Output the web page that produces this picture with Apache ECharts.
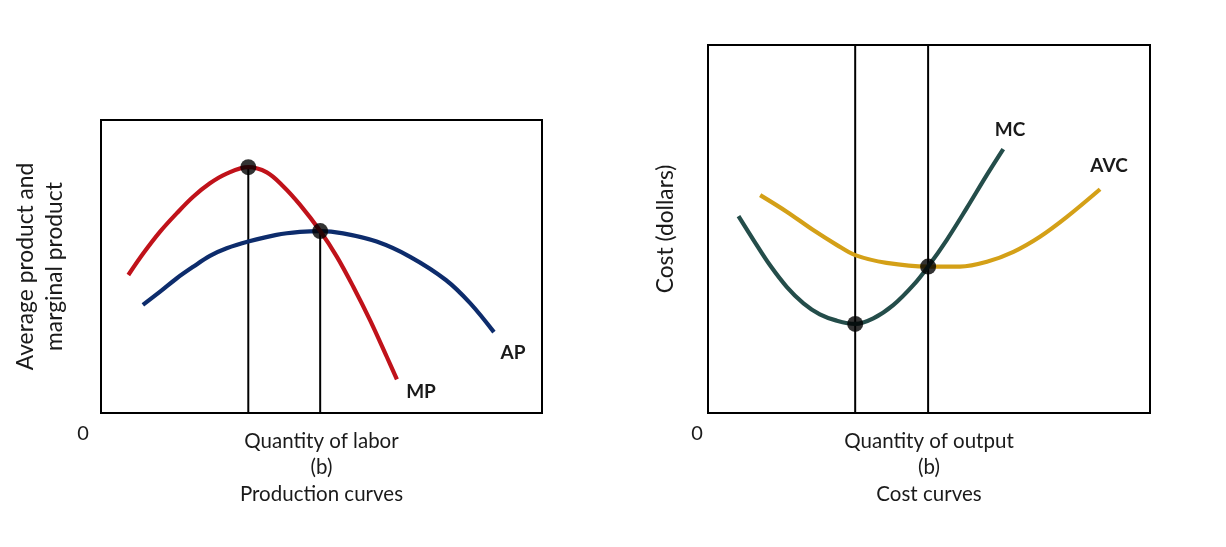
<!DOCTYPE html>
<html>
<head>
<meta charset="utf-8">
<script src="https://cdn.jsdelivr.net/npm/echarts@6/dist/echarts.min.js"></script>
<style>
  html, body { margin: 0; padding: 0; background: #fff; }
  #chart { width: 1226px; height: 547px; }
</style>
</head>
<body>
<div id="chart"></div>
<script>
// production curves (left panel)
const mpX = [6.2, 9.6, 13.4, 17.2, 20.9, 24.7, 28.5, 33.4, 37.6, 41.3, 45.1, 49.7, 53.5, 57.2, 61.0, 64.8, 67.1];
const mpY = [47.1, 54.5, 61.9, 68.2, 73.8, 78.4, 81.7, 83.9, 82.1, 77.4, 71.1, 62.1, 53.3, 43.1, 31.7, 19.2, 11.5];
const apX = [9.5, 13.4, 17.2, 20.9, 24.7, 28.5, 33.4, 39.8, 45.1, 49.7, 54.9, 62.5, 70.1, 78.2, 83.7, 89.1];
const apY = [36.9, 41.4, 46.0, 49.9, 53.6, 56.2, 58.5, 60.8, 61.8, 62.1, 61.3, 58.5, 53.3, 45.4, 37.5, 27.6];
const prodDotX = [33.4, 49.7];
const prodDotY = [83.9, 62.1];

// cost curves (right panel)
const mcX = [6.9, 10.3, 14.0, 17.8, 21.6, 25.3, 29.1, 33.3, 37.4, 41.9, 46.5, 49.8, 54.0, 58.5, 63.1, 66.8];
const mcY = [53.5, 47.0, 40.2, 34.3, 29.8, 26.8, 25.1, 24.2, 25.7, 29.3, 34.8, 39.8, 47.0, 55.6, 64.7, 71.7];
const avcX = [11.8, 17.8, 23.8, 29.1, 33.3, 40.4, 49.8, 57.0, 63.1, 69.1, 75.1, 81.2, 88.7];
const avcY = [59.2, 54.7, 49.7, 45.7, 42.9, 40.8, 39.8, 39.8, 41.1, 43.8, 47.9, 53.3, 60.8];
const costDotX = [33.3, 49.8];
const costDotY = [24.2, 39.8];

const zip = (xs, ys) => xs.map((x, i) => [x, ys[i]]);
const font = 'Lato, "Open Sans", sans-serif';

function curve(name, xs, ys, color, idx) {
    return {
        name: name, type: 'line', smooth: 0.35, symbol: 'none',
        xAxisIndex: idx, yAxisIndex: idx,
        lineStyle: { color: color, width: 4.2 },
        data: zip(xs, ys), z: 3
    };
}
function vline(x, top, idx) {
    return {
        type: 'line', symbol: 'none', silent: true,
        xAxisIndex: idx, yAxisIndex: idx,
        lineStyle: { color: '#000', width: 2 },
        data: [[x, 0], [x, top]], z: 2
    };
}
function dots(xs, ys, idx) {
    return {
        type: 'scatter', symbolSize: 16, xAxisIndex: idx, yAxisIndex: idx,
        itemStyle: { color: '#000' }, data: zip(xs, ys), z: 5
    };
}
function axisX(idx, name) {
    return {
        gridIndex: idx, type: 'value', min: 0, max: 100,
        axisLine: { show: false }, axisTick: { show: false },
        axisLabel: { show: false }, splitLine: { show: false },
        name: name, nameLocation: 'middle', nameGap: 15,
        nameTextStyle: { fontFamily: font, fontSize: 20.5, color: '#1a1a1a', lineHeight: 26.5 }
    };
}
function axisY(idx, name, gap) {
    return {
        gridIndex: idx, type: 'value', min: 0, max: 100,
        axisLine: { show: false }, axisTick: { show: false },
        axisLabel: { show: false }, splitLine: { show: false },
        name: name, nameLocation: 'middle', nameGap: gap, nameRotate: 90,
        nameTextStyle: { fontFamily: font, fontSize: 22.8, color: '#1a1a1a', lineHeight: 29 }
    };
}
function label(text, x, y, bold) {
    return {
        type: 'text', x: x, y: y,
        style: {
            text: text, fill: '#1a1a1a', font: (bold ? 'bold 19px ' : '20px ') + font,
            align: 'center', verticalAlign: 'middle'
        }
    };
}

const chart = echarts.init(document.getElementById('chart'));
chart.setOption({
    backgroundColor: '#fff',
    animation: false,
    grid: [
        { left: 101, top: 120, width: 441, height: 293, show: true, borderColor: '#000', borderWidth: 2 },
        { left: 708, top: 45, width: 442, height: 368, show: true, borderColor: '#000', borderWidth: 2 }
    ],
    xAxis: [
        axisX(0, 'Quantity of labor\n(b)\nProduction curves'),
        axisX(1, 'Quantity of output\n(b)\nCost curves')
    ],
    yAxis: [
        axisY(0, 'Average product and\nmarginal product', 31.5),
        axisY(1, 'Cost (dollars)', 27.5)
    ],
    series: [
        vline(prodDotX[0], prodDotY[0], 0),
        vline(prodDotX[1], prodDotY[1], 0),
        curve('AP', apX, apY, '#0d2c6c', 0),
        curve('MP', mpX, mpY, '#c0121a', 0),
        dots(prodDotX, prodDotY, 0),
        vline(costDotX[0], 100, 1),
        vline(costDotX[1], 100, 1),
        curve('AVC', avcX, avcY, '#d4a017', 1),
        curve('MC', mcX, mcY, '#244d4a', 1),
        dots(costDotX, costDotY, 1)
    ],
    graphic: [
        label('0', 83, 434, false),
        label('0', 697, 434, false),
        label('MP', 421, 392, true),
        label('AP', 513, 353, true),
        label('MC', 1010, 130, true),
        label('AVC', 1109, 166, true)
    ]
});
</script>
</body>
</html>
